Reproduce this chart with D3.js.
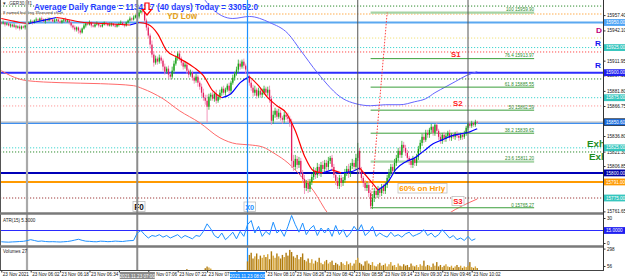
<!DOCTYPE html>
<html>
<head>
<meta charset="utf-8">
<script src="https://cdn.jsdelivr.net/npm/d3@7"></script>
<style>
  body { margin: 0; background: #fff; }
  svg { display: block; font-family: "Liberation Sans", Arial, sans-serif; }
</style>
</head>
<body>
<svg id="chart" width="625" height="280"></svg>
<script>
// ---- data (1 minute bars from 05:46, 23 Nov 2021) ----
const closes = [
  15949,15950,15948,15949,15947,15948,15946,15947,15945,15946,
  15944,15946,15945,15947,15949,15950,15951,15950,15952,15953,
  15952,15954,15953,15951,15953,15952,15954,15953,15951,15952,
  15953,15951,15950,15952,15953,15951,15952,15950,15947,15945,
  15943,15945,15942,15940,15944,15947,15949,15948,15950,15947,
  15946,15948,15949,15947,15946,15948,15950,15949,15947,15948,
  15949,15947,15946,15948,15949,15950,15948,15947,15950,15952,
  15954,15953,15955,15957,15956,15960,15963,15961,15952,15945,
  15937,15928,15918,15910,15914,15911,15915,15912,15906,15901,
  15904,15898,15896,15902,15909,15915,15919,15914,15910,15906,
  15908,15902,15898,15900,15895,15892,15896,15890,15886,15880,
  15875,15872,15866,15876,15878,15874,15879,15872,15876,15880,
  15884,15880,15883,15887,15882,15890,15895,15899,15903,15909,
  15906,15911,15907,15903,15896,15890,15885,15880,15883,15877,
  15882,15878,15880,15884,15880,15883,15874,15852,15858,15862,
  15856,15860,15855,15853,15858,15856,15854,15850,15812,15806,
  15814,15808,15812,15800,15794,15785,15790,15784,15791,15796,
  15802,15798,15806,15800,15808,15804,15810,15806,15812,15815,
  15806,15798,15792,15787,15795,15790,15793,15800,15804,15799,
  15807,15810,15806,15815,15822,15803,15795,15790,15785,15788,
  15780,15767,15775,15782,15778,15784,15780,15786,15782,15788,
  15795,15800,15806,15802,15810,15815,15822,15818,15828,15825,
  15820,15815,15812,15808,15814,15810,15816,15824,15830,15836,
  15833,15840,15838,15843,15846,15840,15848,15842,15836,15832,
  15838,15834,15837,15840,15835,15838,15836,15839,15837,15835,
  15838,15836,15839,15845,15849,15847,15850,15848,15851,15850.6
];
const firstOpen = 15950;
const upWick = [
  1,2,1,1,2,1,1,2,1,1,2,1,1,1,2,1,2,1,1,2,
  1,1,2,1,1,2,1,1,1,2,1,1,2,1,1,2,1,1,1,1,
  2,1,1,2,1,2,1,1,2,1,1,1,2,1,1,2,1,1,1,2,
  1,1,2,1,1,2,1,2,1,1,2,1,2,1,3,4,5,2,3,2,
  3,2,4,3,3,2,3,2,2,3,2,3,2,4,3,2,2,3,2,2,
  3,2,2,3,2,2,3,2,2,3,4,3,6,3,2,3,2,4,2,3,
  2,3,2,2,3,2,3,2,3,4,3,2,3,2,3,2,3,3,4,2,
  3,2,4,3,2,3,4,3,4,3,2,4,3,2,3,2,4,3,4,6,
  4,3,4,3,3,4,3,4,3,3,4,3,4,3,3,4,3,3,4,2,
  3,3,2,4,3,3,3,4,3,5,3,4,3,4,8,3,3,2,3,3,
  4,3,4,3,3,3,2,3,3,3,3,4,3,3,4,3,3,4,4,3,
  3,3,2,3,3,2,3,3,3,3,3,3,3,2,3,1,1,2,2,3,
  2,3,2,2,3,2,2,2,3,2,2,2,3,2,1,2,2,1,2,1
];
const downWick = [
  1,1,2,1,1,2,1,1,2,1,2,1,1,2,1,1,1,2,1,1,
  2,1,1,1,2,1,1,2,1,1,1,2,1,1,2,1,1,2,2,2,
  2,2,3,2,1,1,2,1,1,2,1,1,1,2,1,1,1,2,1,1,
  2,1,1,1,2,1,1,2,1,1,1,2,1,1,2,2,1,2,3,3,
  3,4,3,4,2,3,2,3,4,3,2,4,3,2,3,2,3,2,3,3,
  2,3,3,2,3,3,2,4,3,4,3,4,16,3,4,2,3,3,2,3,
  3,2,3,2,3,3,2,3,2,3,3,2,3,4,3,3,3,4,3,3,
  2,3,3,2,3,3,4,4,3,3,3,2,3,4,3,3,3,4,7,4,
  3,4,3,4,4,6,3,4,3,3,3,4,3,3,4,3,3,4,3,3,
  4,3,4,3,3,4,3,3,3,4,3,3,3,3,3,4,3,4,3,3,
  4,3,3,4,3,3,4,3,3,3,3,3,3,4,3,3,3,3,3,4,
  3,3,4,3,3,3,3,3,3,3,3,2,3,3,3,3,3,3,3,3,
  3,3,3,2,3,3,2,3,2,3,2,3,2,2,2,2,2,2,2,2
];

// fast MA, read every 5 bars (+ last bar); blue while rising, red while falling
const maIdx = [0,5,10,15,20,25,30,35,40,45,50,55,60,65,70,75,80,85,90,95,100,105,110,115,120,125,
  130,135,140,145,150,155,160,165,170,175,180,185,190,195,200,205,210,215,220,225,230,235,240,245,250,255,259];
const maVals = [15954,15952,15950,15949,15951,15953,15955,15953.5,15951.5,15950,15949.5,15949,15948.5,15948,
  15947.5,15950,15948,15939,15922,15916,15911,15905,15897,15882,15875,15879,15890,15896,15887,15875,15867,
  15860,15842,15817,15802,15800,15803,15800,15801,15805,15794,15783,15790,15804,15811,15815,15822,15829,
  15833,15837,15839,15841,15844];

// slow MAs
const slowBlueIdx = [86,100,111,114,126,135,146,156,163,172,186,193,201,209,217,225,231,236,242,247,253,259];
const slowBlueVals = [16002,15987,15972,15965,15954,15956,15950,15939,15922,15900,15874,15869,15867,15868,
  15868,15871,15874,15880,15886,15891,15897,15901];
const slowRedIdx = [0,5,14,32,54,72,77,82,88,97,108,119,128,135,142,149,156,163,170,178,187,195,212,228,243,259];
const slowRedVals = [15902,15897,15892,15890,15889,15887,15884,15880,15874,15862,15850,15835,15829,15828,
  15826,15819,15810,15797,15782,15759,15745,15737,15727,15737,15759,15774];

// ATR(15), read every 2 bars
const atrVals = [
  1.5,1.2,1.0,1.3,1.5,1.8,2.0,2.8,4.0,3.0,2.0,2.4,1.8,1.5,1.6,1.4,1.2,1.5,1.8,2.5,
  3.5,4.5,3.2,2.2,2.0,1.6,1.5,2.2,2.0,1.6,1.8,2.3,2.0,1.8,2.4,2.8,3.0,
  12,15,10,6,9,8,10,7,9,6,8,10,6,9,7,5,9,8,14,23,17,9,6,12,4,8,13,5,14,8,
  22,27,12,20,8,14,10,25,12,16,8,20,33,22,13,24,10,17,21,9,18,12,18,8,21,10,16,7,12,20,
  14,22,9,13,20,8,12,9,7,13,8,10,7,11,13,8,10,12,16,9,12,7,10,16,11,6,9,4,6,3,8,3,5
];
const atrLevel = 15;

// tick volume from bar 100 on (nothing earlier)
const volFirst = 100;
const volumes = [
  0,12,0,0,0,0,0,0,0,0, 0,25,48,35,20,0,0,0,0,0, 0,0,0,0,0,0,0,0,0,0, 0,0,0,0,
  120,210,240,160,190,230,150,200,170,210, 180,220,150,260,200,170,230,190,160,210,
  180,240,200,280,250,190,170,210,150,180, 230,140,120,160,100,150,90,130,110,170,
  100,80,120,140,90,110,130,70,100,80, 60,110,90,70,120,80,100,60,90,140,
  170,100,80,60,120,130,90,70,110,60, 50,80,100,60,70,90,50,80,110,60,
  70,40,90,60,50,80,60,70,40,90, 60,50,70,40,80,60,130,50,70,60,
  40,90,60,110,50,70,40,60,80,50, 40,60,30,50,70,40,60,30,50,40,
  60,110,40,30,50,27
];

// horizontal levels
const levelPrices = [15966.4,15958.5,15950,15934.5,15925,15920.6,15900,15893.7,15875,15866.8,
  15850.7,15849.5,15825,15820.9,15800,15791,15775];
const levelKinds = ["greenDot","peachDot","lightBlue","yellowDot","cyanDot","redDot","blue","greenDot",
  "cyanDot","pinkDot","bid","lightBlueThin","cyanDot","greenDot","navy","orange","darkRedDot"];

// fibonacci retracement
const fibLevels = [100, 76.4, 61.8, 50, 38.2, 23.6, 0];
const fibPrices = [15959.90, 15913.97, 15885.55, 15862.59, 15839.62, 15811.20, 15765.27];
const fibFrom = "09:07", fibTo = "10:36", fibTrendTop = "09:16";

// right price axis
const priceTicks = [15957.40,15942.10,15911.95,15897.30,15881.80,15866.75,15836.80,15821.30,15806.85,15761.65];
const boxPrices = [15950,15925,15900,15875,15850.6,15825,15800,15791,15775];
const boxKinds = ["lightBlue","teal","blue","teal","bid","teal","navy","orange","teal"];

// time axis (labels at 06:50 and 07:54 sit under the boxed times)
const tickTimes = ["05:46","06:02","06:18","06:34","06:50","07:06","07:22","07:38","07:54",
  "08:10","08:26","08:42","08:58","09:14","09:30","09:46","10:02"];
const hiddenTicks = ["06:50","07:54"];
const periodTimes = ["06:00","07:00","08:00","09:00","10:00"];
const periodKinds = ["light","mid","blue","dark","dark"];

// ---- helpers ----
const day = (h, m, s = 0) => new Date(2021, 10, 23, h, m, s);
const at = s => { const [h, m] = s.split(":").map(Number); return day(h, m); };
const barTime = i => day(5, 46 + i);

const svg = d3.select("#chart");
const plotR = 603;

const x = d3.scaleTime().domain([day(5, 45, 18), day(11, 13, 28)]).range([0, plotR]);
const y = d3.scaleLinear().domain([15950, 15775]).range([22.5, 198]);
const yAtr = d3.scaleLinear().domain([0, 30]).range([243, 218]);
const yVol = d3.scaleLinear().domain([0, 320]).range([270, 247]);

const defs = svg.append("defs");
defs.append("clipPath").attr("id", "cp").append("rect").attr("x", 0).attr("y", 0).attr("width", plotR).attr("height", 212);
defs.append("clipPath").attr("id", "ca").append("rect").attr("x", 0).attr("y", 215).attr("width", plotR).attr("height", 30);
defs.append("clipPath").attr("id", "cv").append("rect").attr("x", 0).attr("y", 248).attr("width", plotR).attr("height", 22);

svg.append("rect").attr("width", 625).attr("height", 280).attr("fill", "#fff");

const levelStyle = {
  greenDot: ["#2E8B2E", 1, "1.2,1.8"], peachDot: ["#FFC98A", 1.5, "1.5,1.5"], lightBlue: ["#5AA8F0", 2, null],
  yellowDot: ["#F2E27A", 1, "1.2,1.8"], cyanDot: ["#3FD6D0", 1, "1.2,1.8"], redDot: ["#FF4A4A", 1, "1.2,1.8"],
  blue: ["#2D2DFF", 2, null], pinkDot: ["#FF9A9A", 1, "1.2,1.8"], bid: ["#A8A8A8", 1, null],
  lightBlueThin: ["#3F8FEF", 1.3, null], navy: ["#0000B8", 2, null], orange: ["#FF9A00", 2, null],
  darkRedDot: ["#9E3A3A", 1, "1.2,1.8"]
};

const price = svg.append("g").attr("clip-path", "url(#cp)");

// horizontal levels
price.selectAll(".lvl").data(levelPrices).join("line")
  .attr("x1", 0).attr("x2", plotR)
  .attr("y1", d => y(d)).attr("y2", d => y(d))
  .attr("stroke", (d, i) => levelStyle[levelKinds[i]][0])
  .attr("stroke-width", (d, i) => levelStyle[levelKinds[i]][1])
  .attr("stroke-dasharray", (d, i) => levelStyle[levelKinds[i]][2]);

// period separators across all panels
const periodStyle = { light: ["#A9A9A9", 2.2], mid: ["#8C8C8C", 2], blue: ["#1E90FF", 1.2], dark: ["#555", 1] };
svg.selectAll(".per").data(periodTimes).join("line")
  .attr("x1", d => x(at(d))).attr("x2", d => x(at(d)))
  .attr("y1", 0).attr("y2", 270)
  .attr("stroke", (d, i) => periodStyle[periodKinds[i]][0])
  .attr("stroke-width", (d, i) => periodStyle[periodKinds[i]][1]);

// slow moving averages
const slowLine = d3.line().x(d => x(barTime(d[0]))).y(d => y(d[1])).curve(d3.curveMonotoneX);
price.append("path").attr("d", slowLine(slowBlueIdx.map((d, k) => [d, slowBlueVals[k]])))
  .attr("fill", "none").attr("stroke", "#6464FF").attr("stroke-width", 1);
price.append("path").attr("d", slowLine(slowRedIdx.map((d, k) => [d, slowRedVals[k]])))
  .attr("fill", "none").attr("stroke", "#FF6A6A").attr("stroke-width", 1);

// fibonacci
const fibG = price.append("g");
fibG.selectAll("line").data(fibPrices).join("line")
  .attr("x1", x(at(fibFrom))).attr("x2", x(at(fibTo)))
  .attr("y1", d => y(d)).attr("y2", d => y(d))
  .attr("stroke", (d, i) => (fibLevels[i] === 100 || fibLevels[i] === 23.6) ? "#A6D4A6" : "#3A9E3A")
  .attr("stroke-width", (d, i) => (fibLevels[i] === 100 || fibLevels[i] === 23.6) ? 2.2 : 1);
fibG.selectAll("text").data(fibPrices).join("text")
  .attr("x", x(at(fibTo))).attr("y", d => y(d) - 1.2)
  .attr("text-anchor", "end").attr("font-size", 4.6).attr("fill", "#2E8B2E")
  .text((d, i) => fibLevels[i] + " " + d.toFixed(2));
price.append("line")
  .attr("x1", x(at(fibFrom))).attr("y1", y(fibPrices[6]))
  .attr("x2", x(at(fibTrendTop))).attr("y2", y(fibPrices[0]))
  .attr("stroke", "#FF4040").attr("stroke-width", 1).attr("stroke-dasharray", "1.5,1.5");

// candles
const bars = closes.map((c, i) => {
  const o = i ? closes[i - 1] : firstOpen;
  return { i, o, c, h: Math.max(o, c) + upWick[i], l: Math.min(o, c) - downWick[i], up: c >= o };
});
const cg = price.append("g");
cg.selectAll("line").data(bars).join("line")
  .attr("x1", d => x(barTime(d.i))).attr("x2", d => x(barTime(d.i)))
  .attr("y1", d => y(d.h)).attr("y2", d => y(d.l))
  .attr("stroke", d => d.up ? "#3DB33D" : "#F28AB6").attr("stroke-width", 0.9);
cg.selectAll("rect").data(bars).join("rect")
  .attr("x", d => x(barTime(d.i)) - 0.65).attr("width", 1.3)
  .attr("y", d => y(Math.max(d.o, d.c)))
  .attr("height", d => Math.max(0.8, Math.abs(y(d.o) - y(d.c))))
  .attr("fill", d => d.up ? "#14A014" : "#E3205E");

// fast MA coloured by direction
const maPts = maIdx.map((d, k) => [d, maVals[k]]);
const runs = [];
let cur = [maPts[0]], dir = null;
for (let k = 1; k < maPts.length; k++) {
  const dd = maPts[k][1] >= maPts[k - 1][1] ? "up" : "down";
  if (dir === null || dd === dir) { cur.push(maPts[k]); dir = dd; }
  else { runs.push({ dir, pts: cur }); cur = [maPts[k - 1], maPts[k]]; dir = dd; }
}
runs.push({ dir, pts: cur });
price.selectAll(".ma").data(runs).join("path")
  .attr("d", r => slowLine(r.pts)).attr("fill", "none")
  .attr("stroke", r => r.dir === "up" ? "#0000FF" : "#FF0000").attr("stroke-width", 1.2);

// chart annotations
const lab = (g, t, px, py, color, size, len, weight = "bold") => g.append("text")
  .attr("x", px).attr("y", py).attr("fill", color).attr("font-size", size)
  .attr("font-weight", weight).attr("textLength", len).attr("lengthAdjust", "spacingAndGlyphs").text(t);

lab(price, "\u25BC .GER30,M1", 2, 5, "#333", 4.6, 30, "normal");
lab(price, "8 named building 35second chart", 3, 14, "#333", 4.4, 60, "normal");
lab(price, "Average Daily Range = 11342.7 (40 days)    Today = 33052.0", 34, 10, "#1F3CFF", 9.2, 224)
  .attr("stroke", "#fff").attr("stroke-width", 0.8).attr("paint-order", "stroke");
lab(price, "YD Low", 167, 19, "#E0A020", 8.6, 30);
price.append("path")
  .attr("d", "M145,3 h4 v6.5 h2.5 l-4.5,5.5 l-4.5,-5.5 h2.5 z")
  .attr("fill", "#fff").attr("stroke", "#FF0000").attr("stroke-width", 1.2);
lab(price, "S1", 451, 57, "#FF2020", 8, 9.5);
lab(price, "S2", 453, 106, "#FF2020", 8, 9.5);
lab(price, "D", 596, 32.5, "#C0007A", 7.5, 6);
lab(price, "R", 595, 45.5, "#1414F0", 7.5, 6);
lab(price, "R", 595, 68, "#1414F0", 7.5, 6);
lab(price, "Exh", 587, 146.5, "#1E8C1E", 9.5, 18);
lab(price, "Exh", 589, 159.5, "#1E8C1E", 9.5, 18);

const boxed = (t, bx, by, bw, bh, color, len) => {
  price.append("rect").attr("x", bx).attr("y", by).attr("width", bw).attr("height", bh)
    .attr("fill", "#fff").attr("stroke", "#BEBEBE").attr("stroke-width", 0.8);
  lab(price, t, bx + 1.2, by + bh - 2, color, bh - 1.5, len);
};
boxed("60% on Hrly", 398, 183.5, 49, 9.5, "#FF9A00", 46);
boxed("S3", 452, 196.5, 12, 9, "#FF2020", 9.5);
boxed("F0", 133, 201.5, 12, 10, "#111", 9.5);
boxed("X0", 244, 202, 11.5, 9.5, "#1E90FF", 9);

// right price axis
const axisY = svg.append("g").attr("transform", `translate(${plotR},0)`)
  .call(d3.axisRight(y).tickValues(priceTicks).tickSize(2.5).tickFormat(d3.format(".2f")));
axisY.select(".domain").remove();
axisY.selectAll("text").attr("font-size", 4.6).attr("x", 4).attr("fill", "#111");
axisY.selectAll("line").attr("stroke", "#333");

const boxFill = { lightBlue: "#4DA3F5", teal: "#36C6BE", blue: "#1E1EF0", bid: "#1E6FE0", navy: "#0000A6", orange: "#FF9A00" };
const pb = svg.append("g").selectAll("g").data(boxPrices).join("g")
  .attr("transform", d => `translate(${plotR + 1},${y(d)})`);
pb.append("rect").attr("x", 0).attr("y", -3.4).attr("width", 21.5).attr("height", 6.8)
  .attr("fill", (d, i) => boxFill[boxKinds[i]])
  .attr("stroke", (d, i) => boxKinds[i] === "bid" ? "#000" : "none").attr("stroke-width", 0.6);
pb.append("text").attr("x", 2).attr("dy", "0.35em").attr("font-size", 4.6).attr("fill", "#fff")
  .text(d => d3.format(".2f")(d));

// ATR panel
const atrG = svg.append("g");
atrG.append("line").attr("x1", 0).attr("x2", plotR).attr("y1", yAtr(atrLevel)).attr("y2", yAtr(atrLevel))
  .attr("stroke", "#2A2AFF").attr("stroke-width", 1);
atrG.append("path").attr("clip-path", "url(#ca)")
  .attr("d", d3.line().x((d, k) => x(barTime(k * 2))).y(d => yAtr(d))(atrVals))
  .attr("fill", "none").attr("stroke", "#1E90FF").attr("stroke-width", 1);
atrG.append("text").attr("x", 3).attr("y", 222).attr("font-size", 4.6).attr("fill", "#222").text("ATR(15) 5.3000");
const atrAxis = svg.append("g").attr("transform", `translate(${plotR},0)`)
  .call(d3.axisRight(yAtr).tickValues([30, 0]).tickSize(2.5));
atrAxis.select(".domain").remove();
atrAxis.selectAll("text").attr("font-size", 4.6).attr("x", 4).attr("fill", "#111");
atrAxis.selectAll("line").attr("stroke", "#333");
svg.append("rect").attr("x", plotR + 1).attr("y", yAtr(atrLevel) - 3.4).attr("width", 21.5).attr("height", 6.8).attr("fill", "#1E1EF0");
svg.append("text").attr("x", plotR + 3).attr("y", yAtr(atrLevel)).attr("dy", "0.35em")
  .attr("font-size", 4.6).attr("fill", "#fff").text(d3.format(".4f")(atrLevel));

// volume panel
const volG = svg.append("g").attr("clip-path", "url(#cv)");
volG.selectAll("rect").data(volumes).join("rect")
  .attr("x", (d, k) => x(barTime(volFirst + k)) - 0.7).attr("width", 1.4)
  .attr("y", d => yVol(d)).attr("height", d => yVol(0) - yVol(d))
  .attr("fill", (d, k) => bars[volFirst + k].up ? "#D6A436" : "#B07B0E");
svg.append("text").attr("x", 3).attr("y", 253).attr("font-size", 4.6).attr("fill", "#222")
  .text("Volumes " + volumes[volumes.length - 1]);
const volAxis = svg.append("g").attr("transform", `translate(${plotR},0)`)
  .call(d3.axisRight(yVol).tickValues([298, 56]).tickSize(2.5));
volAxis.select(".domain").remove();
volAxis.selectAll("text").attr("font-size", 4.6).attr("x", 4).attr("fill", "#111");
volAxis.selectAll("line").attr("stroke", "#333");

// frame and panel separators
svg.append("line").attr("x1", 0.5).attr("x2", 0.5).attr("y1", 0).attr("y2", 270).attr("stroke", "#555");
svg.append("line").attr("x1", plotR + 0.5).attr("x2", plotR + 0.5).attr("y1", 0).attr("y2", 270).attr("stroke", "#333");
[213.5, 246.5].forEach(sy => svg.append("line").attr("x1", 0).attr("x2", plotR).attr("y1", sy).attr("y2", sy)
  .attr("stroke", "#7A7A7A").attr("stroke-width", 2.6));
svg.append("line").attr("x1", 0).attr("x2", plotR + 1).attr("y1", 270.5).attr("y2", 270.5).attr("stroke", "#444");

// time axis
const tAxis = svg.append("g").attr("transform", "translate(0,270.5)")
  .call(d3.axisBottom(x).tickValues(tickTimes.map(at)).tickSize(2)
    .tickFormat((d, i) => hiddenTicks.includes(tickTimes[i]) ? "" : (i === 0 ? "23 Nov 2021" : "23 Nov " + tickTimes[i])));
tAxis.select(".domain").remove();
tAxis.selectAll("line").attr("stroke", "#333");
tAxis.selectAll("text").attr("text-anchor", "start").attr("x", 1).attr("y", 2.5).attr("dy", "0.71em")
  .attr("font-size", 4.6).attr("fill", "#111");

const timeBox = (t, fill) => {
  const cx = x(at(t));
  svg.append("rect").attr("x", cx - 17.5).attr("y", 272).attr("width", 35).attr("height", 7).attr("fill", fill);
  svg.append("text").attr("x", cx).attr("y", 277.5).attr("text-anchor", "middle")
    .attr("font-size", 4.6).attr("fill", "#fff").text("2021.11.23 " + t);
};
timeBox("07:00", "#8A8A8A");
timeBox("08:00", "#1E90FF");
</script>
</body>
</html>
